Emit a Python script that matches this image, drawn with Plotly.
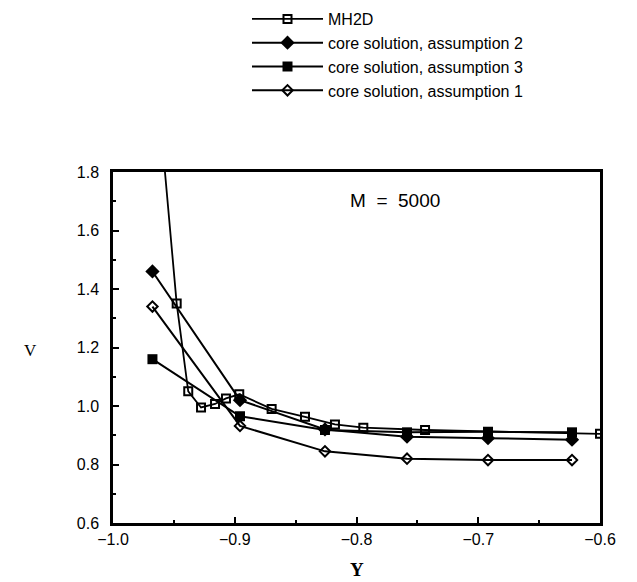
import plotly.graph_objects as go

# ---- data ----
core_y = [-0.9676, -0.8957, -0.8259, -0.7585, -0.692, -0.623]
v_assump2 = [1.46, 1.02, 0.92, 0.895, 0.89, 0.885]
v_assump3 = [1.16, 0.965, 0.918, 0.91, 0.912, 0.91]
v_assump1 = [1.34, 0.932, 0.845, 0.82, 0.815, 0.815]

mh2d_y = [-0.9616, -0.9477, -0.9382, -0.9277, -0.9162, -0.9072, -0.8963,
          -0.8697, -0.8423, -0.8177, -0.7944, -0.7437, -0.6]
mh2d_v = [2.0, 1.35, 1.05, 0.995, 1.007, 1.026, 1.04,
          0.99, 0.963, 0.937, 0.926, 0.918, 0.905]

series_names = ["MH2D", "core solution, assumption 2",
                "core solution, assumption 3", "core solution, assumption 1"]

x_ticks = [-1.0, -0.9, -0.8, -0.7, -0.6]
y_ticks = [0.6, 0.8, 1.0, 1.2, 1.4, 1.6, 1.8]

# page is rendered with an 8px body margin
W, H = 629, 574
L, R, T, B = 105, 592, 164, 515          # plot area in figure pixels
PW, PH = R - L, B - T

def paper(px, py):
    return (px - L) / PW, (B - py) / PH

fig = go.Figure()
fig.add_trace(go.Scatter(x=mh2d_y, y=mh2d_v, mode="lines+markers", name=series_names[0],
                         legendgroup="a",
                         line=dict(color="black", width=1.8),
                         marker=dict(symbol="square-open", size=8, color="black",
                                     line=dict(width=2, color="black"))))
fig.add_trace(go.Scatter(x=core_y, y=v_assump2, mode="lines+markers", name=series_names[1],
                         legendgroup="b",
                         line=dict(color="black", width=2),
                         marker=dict(symbol="diamond", size=11, color="black")))
fig.add_trace(go.Scatter(x=core_y, y=v_assump3, mode="lines+markers", name=series_names[2],
                         legendgroup="c",
                         line=dict(color="black", width=2),
                         marker=dict(symbol="square", size=10, color="black")))
fig.add_trace(go.Scatter(x=core_y, y=v_assump1, mode="lines+markers", name=series_names[3],
                         legendgroup="d",
                         line=dict(color="black", width=2),
                         marker=dict(symbol="diamond-open", size=8, color="black",
                                     line=dict(width=2, color="black"))))

sans = "Liberation Sans, Arial, sans-serif"
serif = "Liberation Serif, Times New Roman, serif"
axis_font = dict(family=sans, size=16, color="black")

lx, ly = paper(239, -6)
m_x, m_y = paper(387, 192)
v_x, v_y = paper(22, 342)
y_x, y_y = paper(349, 561)

fig.update_layout(
    width=W, height=H,
    margin=dict(l=L, r=W - R, t=T, b=H - B, autoexpand=False),
    paper_bgcolor="white", plot_bgcolor="white",
    showlegend=True,
    legend=dict(x=lx, y=ly, xanchor="left", yanchor="top",
                font=dict(family=sans, size=16, color="black"),
                itemwidth=71, tracegroupgap=0, bgcolor="rgba(0,0,0,0)"),
    xaxis=dict(range=[-1.0, -0.6], tickvals=x_ticks, tickformat=".1f",
               ticks="inside", ticklen=6, tickwidth=1.5, tickcolor="black",
               minor=dict(ticks="inside", ticklen=3, dtick=0.05, tickcolor="black"),
               showline=True, linewidth=2.5, linecolor="black", mirror=True,
               showgrid=False, zeroline=False, tickfont=axis_font),
    yaxis=dict(range=[0.6, 1.8], tickvals=y_ticks, tickformat=".1f",
               ticks="inside", ticklen=6, tickwidth=1.5, tickcolor="black",
               minor=dict(ticks="inside", ticklen=3, dtick=0.1, tickcolor="black"),
               showline=True, linewidth=2.5, linecolor="black", mirror=True,
               showgrid=False, zeroline=False, tickfont=axis_font,
               ticklabelstandoff=8),
    annotations=[
        dict(text="M  =  5000", x=m_x, y=m_y, xref="paper", yref="paper",
             xanchor="center", yanchor="middle",
             showarrow=False, font=dict(family=sans, size=19, color="black")),
        dict(text="V", x=v_x, y=v_y, xref="paper", yref="paper", showarrow=False,
             xanchor="center", yanchor="middle",
             font=dict(family=serif, size=17, color="black")),
        dict(text="<b>Y</b>", x=y_x, y=y_y, xref="paper", yref="paper", showarrow=False,
             xanchor="center", yanchor="middle",
             font=dict(family=serif, size=19, color="black")),
    ],
)

fig.write_html("out.html")
